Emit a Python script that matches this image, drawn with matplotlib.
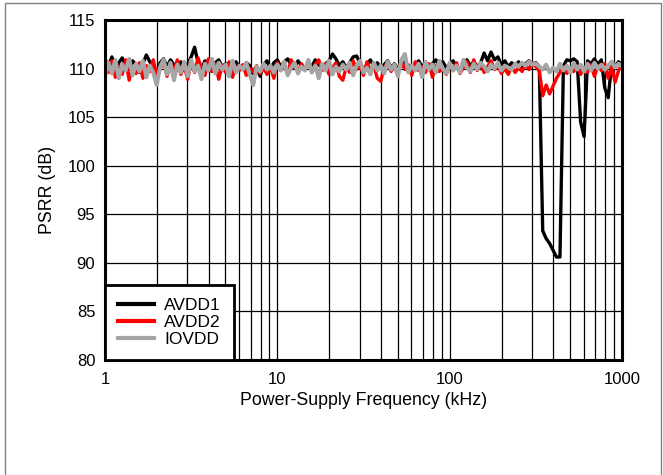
import numpy as np
import matplotlib
matplotlib.use("Agg")
import matplotlib.pyplot as plt
from matplotlib.patches import Rectangle
from matplotlib.ticker import FixedLocator, NullFormatter

plt.rcParams['font.family'] = ['Liberation Sans', 'DejaVu Sans']

# sampling grid of the measurement (kHz), 0.02-decade steps
freq_khz = np.geomspace(1, 1000, 151)

avdd1 = [
    111.0, 110.2, 111.2, 109.8, 110.6, 111.1, 110.3, 109.9, 110.8, 110.4,
    109.6, 110.5, 111.4, 110.7, 110.1, 109.3, 110.6, 111.0, 110.2, 110.9,
    110.4, 109.8, 110.7, 110.1, 110.5, 111.2, 112.2, 110.6, 110.0, 110.8,
    110.3, 109.7, 110.6, 110.9, 110.2, 110.5, 109.8, 110.4, 110.7, 110.1,
    109.9, 110.6, 110.3, 109.5, 110.1, 109.2, 110.4, 110.8, 110.0, 110.6,
    110.9, 110.2, 110.7, 111.0, 110.4, 110.1, 110.8, 110.3, 109.9, 110.6,
    110.2, 110.9, 110.4, 110.0, 110.5, 110.8, 111.5, 111.0, 110.3, 110.7,
    110.1, 110.6, 111.2, 111.3, 110.5, 109.8, 110.4, 110.9, 110.2, 110.6,
    110.0, 110.4, 110.8, 110.1, 110.5, 109.9, 110.3, 110.7, 110.0, 109.6,
    110.4, 110.8, 110.2, 110.6, 109.9, 110.5, 110.9, 110.3, 110.7, 110.1,
    110.4, 110.8, 110.2, 109.8, 110.5, 110.9, 110.3, 110.7, 110.2, 110.6,
    111.6, 110.8, 111.7, 110.9, 111.2, 110.4, 110.8, 110.2, 110.6, 110.3,
    110.7, 110.1, 110.5, 110.8, 110.3, 110.6, 110.2, 93.3, 92.5, 92.0,
    91.3, 90.6, 90.6, 110.3, 110.9, 110.8, 111.0, 110.7, 104.5, 103.0,
    110.8, 110.5, 111.0, 110.4, 110.9, 108.0, 107.0, 110.5, 110.2, 110.7,
    110.4,
]

avdd2 = [
    110.4, 109.6, 110.8, 109.1, 110.2, 109.4, 110.9, 108.8, 110.1, 109.5,
    110.6, 109.0, 110.3, 109.7, 110.9, 109.3, 110.0, 110.8, 109.2, 110.5,
    109.8, 110.9, 109.4, 110.2, 108.9, 110.6, 109.6, 111.1, 110.0, 109.3,
    111.0, 109.7, 110.5, 108.9, 110.3, 109.6, 110.7, 109.1, 110.2, 109.8,
    110.4, 109.3, 110.0, 109.7, 110.3, 109.5, 110.1, 109.4, 110.2, 109.0,
    110.6, 109.8, 110.3, 109.5, 110.9, 110.2, 109.7, 110.5, 109.9, 110.7,
    109.6, 110.4, 110.9, 109.8, 110.5, 109.4, 110.1, 110.6, 109.2, 108.8,
    110.2, 109.6, 110.8, 109.9, 110.4, 109.3, 110.7, 109.8, 110.3, 109.0,
    108.7, 110.1, 110.6, 109.7, 110.3, 109.5, 110.8, 109.9, 110.4, 109.3,
    110.7, 109.8, 110.2, 109.6, 110.5, 109.1, 110.3, 109.7, 110.0, 109.4,
    110.3, 109.8, 110.6, 109.5, 110.1, 110.7, 109.6, 110.9, 109.8, 110.4,
    109.6, 110.2, 110.8, 109.9, 110.3, 109.5, 110.0, 109.4, 110.2, 109.6,
    110.1, 109.7, 110.4, 109.9, 110.6, 110.2, 109.8, 107.2, 108.3, 107.4,
    108.2, 109.0, 109.6, 110.2, 109.5, 110.0, 109.7, 110.3, 109.4, 110.1,
    109.6, 110.4, 109.2, 110.3, 109.8, 110.5, 109.0, 110.2, 108.6, 109.8,
    110.5,
]

iovdd = [
    109.2, 110.6, 109.5, 110.9, 109.0, 110.4, 109.8, 111.0, 109.3, 110.5,
    109.7, 110.8, 109.1, 110.3, 109.6, 108.3, 110.2, 110.9, 109.4, 110.6,
    108.8, 110.4, 109.6, 110.7, 109.2, 110.9, 109.7, 110.3, 108.9, 110.5,
    109.8, 111.0, 109.5, 110.6, 109.9, 110.4, 109.2, 110.8, 109.6, 110.3,
    109.9, 110.6, 109.4, 108.3, 110.2, 109.7, 110.5, 109.9, 110.3, 109.6,
    110.4, 109.8, 110.7, 109.3, 110.1, 110.6, 109.5, 110.2, 109.8, 110.9,
    109.6, 110.3, 109.0, 110.5, 109.8, 110.8, 109.4, 110.2, 109.7, 110.4,
    109.9, 110.6, 109.3, 110.3, 110.8, 109.6, 110.1, 109.4, 110.6, 109.8,
    110.3, 109.5, 110.7, 109.9, 110.4, 109.2, 110.9, 111.5, 109.6, 110.3,
    109.8, 110.5, 109.1, 110.7, 109.9, 110.4, 109.6, 110.8, 110.0, 109.5,
    110.6, 109.8, 110.3, 109.6, 110.9, 110.1, 109.7, 110.5, 109.9, 110.6,
    110.2, 109.7, 110.4, 110.0, 110.6, 109.8, 110.3, 110.1, 109.9, 110.5,
    110.2, 110.6, 110.3, 110.7, 110.4, 110.5, 110.2, 109.9, 110.4, 109.6,
    110.1, 109.7, 110.5, 109.8, 110.3, 109.6, 110.6, 109.9, 110.4, 109.7,
    110.5, 109.8, 110.6, 110.0, 110.4, 109.9, 110.3, 110.7, 110.1, 110.5,
    110.2,
]

series_names = ["AVDD1", "AVDD2", "IOVDD"]
series_colors = ["#000000", "#FF0000", "#A6A6A6"]
x_ticks = [1, 10, 100, 1000]
x_tick_labels = ["1", "10", "100", "1000"]
y_ticks = [80, 85, 90, 95, 100, 105, 110, 115]

fig = plt.figure(figsize=(6.63, 4.75), dpi=100)
ax = fig.add_axes([105/663, 1 - 360/475, 517/663, 340/475])

# outer frame of the figure
fig.patches.append(Rectangle((5/663, -0.01), 656/663, 1 - 3/475 + 0.01,
                             transform=fig.transFigure, fill=False,
                             edgecolor='#808080', lw=1.0))

widths = [2.4, 2.4, 2.9]
for vals, name, col, lw in zip([avdd1, avdd2, iovdd], series_names, series_colors, widths):
    ax.plot(freq_khz, vals, color=col, lw=lw, label=name, solid_joinstyle='round')

ax.set_xscale('log')
ax.set_xlim(1, 1000)
ax.set_ylim(80, 115)
ax.xaxis.set_major_locator(FixedLocator(x_ticks))
ax.set_xticklabels(x_tick_labels)
minor = [m * d for d in (1, 10, 100) for m in range(2, 10)]
ax.xaxis.set_minor_locator(FixedLocator(minor))
ax.xaxis.set_minor_formatter(NullFormatter())
ax.set_yticks(y_ticks)

ax.grid(True, which='major', color='black', lw=0.9)
ax.grid(True, which='minor', axis='x', color='black', lw=0.9)
ax.set_axisbelow(True)
ax.tick_params(which='both', length=0, labelsize=12, colors='black')
ax.tick_params(axis='x', pad=9)
ax.tick_params(axis='y', pad=7)
for s in ax.spines.values():
    s.set_linewidth(2.2)
    s.set_color('black')

ax.set_xlabel("Power-Supply Frequency (kHz)", fontsize=12.8, labelpad=3)
ax.set_ylabel("PSRR (dB)", fontsize=12.8, labelpad=8)

leg = ax.legend(loc='lower left', borderaxespad=0, fancybox=False, fontsize=12.5,
                handlelength=2.1, handletextpad=0.55, labelspacing=0.1,
                borderpad=0.75, framealpha=1)
leg.get_frame().set_edgecolor('black')
leg.get_frame().set_linewidth(2.0)
for h in leg.get_lines():
    h.set_linewidth(3)

fig.savefig("out.png", dpi=100)
